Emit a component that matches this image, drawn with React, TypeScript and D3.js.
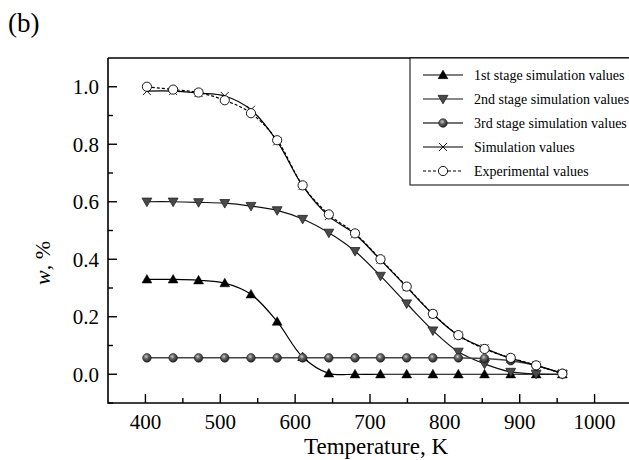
import React from "react";
import * as d3 from "d3";

const temps = [402, 437, 471, 506, 541, 576, 610, 645, 680, 714, 749, 784, 818, 853, 888, 922, 957];
const stage1 = [0.33, 0.33, 0.327, 0.317, 0.278, 0.183, 0.06, 0.003, 0, 0, 0, 0, 0, 0, 0, 0, 0];
const stage2 = [0.6, 0.6, 0.598, 0.595, 0.585, 0.57, 0.54, 0.492, 0.428, 0.342, 0.246, 0.152, 0.078, 0.036, 0.008, 0.001, 0];
const stage3 = [0.057, 0.057, 0.057, 0.057, 0.057, 0.057, 0.057, 0.057, 0.057, 0.057, 0.057, 0.057, 0.057, 0.055, 0.047, 0.03, 0.003];
const simulation = [0.985, 0.985, 0.978, 0.968, 0.92, 0.81, 0.655, 0.55, 0.487, 0.398, 0.303, 0.209, 0.135, 0.091, 0.055, 0.031, 0.003];
const experimental = [1.0, 0.99, 0.98, 0.953, 0.908, 0.814, 0.657, 0.556, 0.49, 0.4, 0.305, 0.21, 0.136, 0.088, 0.057, 0.031, 0.002];

const xTicks = [400, 500, 600, 700, 800, 900, 1000];
const xMinor = [450, 550, 650, 750, 850, 950, 1050];
const yTicks = [0.0, 0.2, 0.4, 0.6, 0.8, 1.0];
const yMinor = [-0.1, 0.1, 0.3, 0.5, 0.7, 0.9];
const legendLabels = [
  "1st stage simulation values",
  "2nd stage simulation values",
  "3rd stage simulation values",
  "Simulation values",
  "Experimental  values",
];

const W = 629;
const H = 460;
const left = 108;
const top = 58;
const bottom = 403;
const xScale = d3.scaleLinear().domain([350, 1050]).range([left, 632]);
const yScale = d3.scaleLinear().domain([-0.1, 1.1]).range([bottom, top]);
const FONT = "'Liberation Serif', 'Times New Roman', serif";

type Kind = "tri" | "itri" | "ball" | "x" | "circle";

function Marker({ kind, x, y }: { kind: Kind; x: number; y: number }) {
  if (kind === "tri") {
    const p = d3.symbol(d3.symbolTriangle, 42)() as string;
    return <path d={p} transform={`translate(${x},${y + 0.8})`} fill="#000" stroke="#000" strokeWidth={0.5} />;
  }
  if (kind === "itri") {
    const p = d3.symbol(d3.symbolTriangle, 42)() as string;
    return <path d={p} transform={`translate(${x},${y - 0.8}) rotate(180)`} fill="#4a4a4a" stroke="#222" strokeWidth={0.8} />;
  }
  if (kind === "ball") {
    return <circle cx={x} cy={y} r={4.3} fill="url(#ballGrad)" stroke="#222" strokeWidth={0.6} />;
  }
  if (kind === "x") {
    const s = 4;
    return (
      <path d={`M${x - s},${y - s}L${x + s},${y + s}M${x - s},${y + s}L${x + s},${y - s}`} stroke="#000" strokeWidth={0.9} />
    );
  }
  return <circle cx={x} cy={y} r={4.6} fill="#fff" stroke="#000" strokeWidth={0.9} />;
}

const seriesDefs: { vals: number[]; kind: Kind; color: string; dash?: string; w: number }[] = [
  { vals: stage1, kind: "tri", color: "#000", w: 1.2 },
  { vals: stage2, kind: "itri", color: "#111", w: 1.2 },
  { vals: stage3, kind: "ball", color: "#444", w: 1.5 },
  { vals: simulation, kind: "x", color: "#000", w: 1.2 },
  { vals: experimental, kind: "circle", color: "#000", dash: "3,2", w: 1.2 },
];

export default function App() {
  const line = d3
    .line<number>()
    .x((_, i) => xScale(temps[i]))
    .y((d) => yScale(d))
    .curve(d3.curveCatmullRom.alpha(0.5));

  const legendX = 410;
  const legendTop = 58;
  const legendRows = [75, 99, 123, 147, 171];

  return (
    <svg width={W} height={H} style={{ position: "absolute", left: 0, top: 0, background: "#fff" }}>
      <defs>
        <radialGradient id="ballGrad" cx="40%" cy="35%" r="65%">
          <stop offset="0%" stopColor="#cfcfcf" />
          <stop offset="40%" stopColor="#666" />
          <stop offset="100%" stopColor="#222" />
        </radialGradient>
      </defs>
      <rect x={0} y={0} width={W} height={H} fill="#fff" />
      <text x={8} y={32} fontFamily={FONT} fontSize={27} fill="#000">(b)</text>

      {seriesDefs.map((s, k) => (
        <path key={`l${k}`} d={line(s.vals) as string} fill="none" stroke={s.color} strokeWidth={s.w} strokeDasharray={s.dash} />
      ))}
      {seriesDefs.map((s, k) => (
        <g key={`m${k}`}>
          {s.vals.map((v, i) => (
            <Marker key={i} kind={s.kind} x={xScale(temps[i])} y={yScale(v)} />
          ))}
        </g>
      ))}

      <path d={`M${left},${top}L${left},${bottom}L${W + 5},${bottom}`} fill="none" stroke="#000" strokeWidth={1.6} />
      <line x1={left} x2={W + 5} y1={top} y2={top} stroke="#000" strokeWidth={1.6} />

      {xTicks.map((t) => (
        <g key={`xt${t}`}>
          <line x1={xScale(t)} x2={xScale(t)} y1={bottom} y2={bottom - 9} stroke="#000" strokeWidth={1.4} />
          <text x={xScale(t)} y={bottom + 26} textAnchor="middle" fontFamily={FONT} fontSize={21} fill="#000">
            {t}
          </text>
        </g>
      ))}
      {xMinor.map((t) => (
        <line key={`xm${t}`} x1={xScale(t)} x2={xScale(t)} y1={bottom} y2={bottom - 5} stroke="#000" strokeWidth={1.4} />
      ))}
      {yTicks.map((t) => (
        <g key={`yt${t}`}>
          <line x1={left} x2={left + 9} y1={yScale(t)} y2={yScale(t)} stroke="#000" strokeWidth={1.4} />
          <text x={left - 9} y={yScale(t) + 7.5} textAnchor="end" fontFamily={FONT} fontSize={21} fill="#000">
            {t.toFixed(1)}
          </text>
        </g>
      ))}
      {yMinor.map((t) => (
        <line key={`ym${t}`} x1={left} x2={left + 5} y1={yScale(t)} y2={yScale(t)} stroke="#000" strokeWidth={1.4} />
      ))}

      <text x={376} y={454} textAnchor="middle" fontFamily={FONT} fontSize={23} fill="#000">
        Temperature, K
      </text>
      <text transform={`translate(50,263) rotate(-90)`} textAnchor="middle" fontFamily={FONT} fontSize={22} fill="#000">
        <tspan fontStyle="italic">w</tspan>, %
      </text>

      <rect x={legendX} y={legendTop} width={W} height={127} fill="#fff" stroke="#000" strokeWidth={1} />
      {seriesDefs.map((s, k) => (
        <g key={`lg${k}`}>
          <line x1={423} x2={463} y1={legendRows[k]} y2={legendRows[k]} stroke={s.color} strokeWidth={s.w} strokeDasharray={s.dash} />
          <Marker kind={s.kind} x={443} y={legendRows[k]} />
          <text x={474} y={legendRows[k] + 4.5} fontFamily={FONT} fontSize={14} fill="#000">
            {legendLabels[k]}
          </text>
        </g>
      ))}
    </svg>
  );
}
